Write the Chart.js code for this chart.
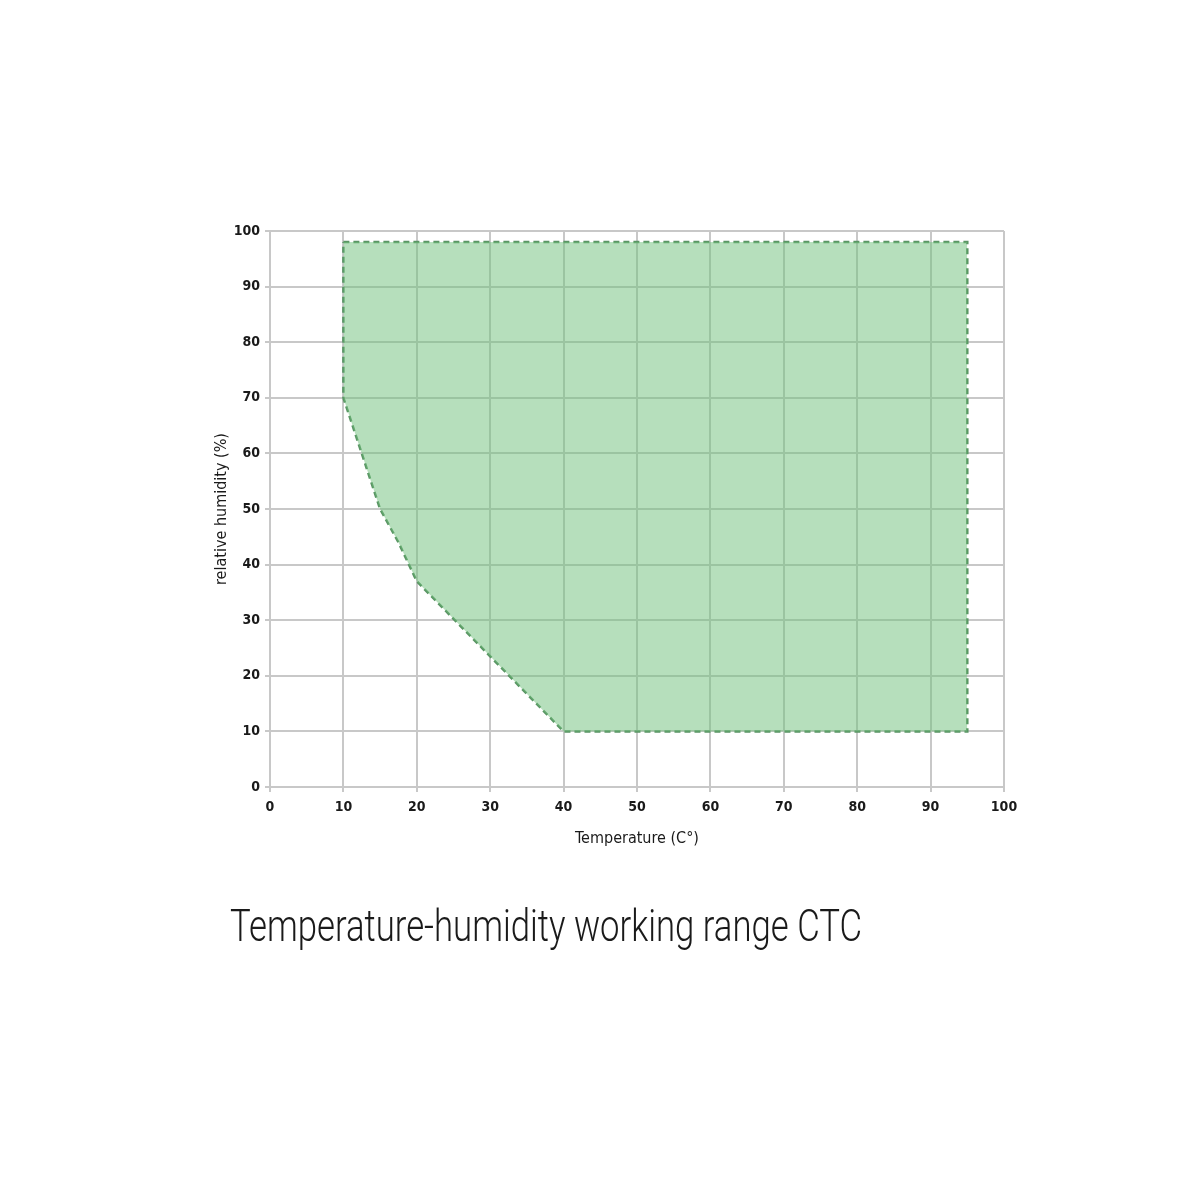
<!DOCTYPE html>
<html>
<head>
<meta charset="utf-8">
<script src="https://cdn.jsdelivr.net/npm/chart.js@4.4.1/dist/chart.umd.min.js"></script>
<style>
  html, body { margin: 0; padding: 0; background: #ffffff; }
  #wrap { position: relative; width: 1200px; height: 1200px; }
  #chart { position: absolute; left: 0; top: 0; }
  #caption {
    position: absolute; left: 230px; top: 900px;
    font-family: Roboto, "DejaVu Sans Condensed", sans-serif;
    font-weight: 300;
    font-size: 44px; color: #1a1a1a; white-space: nowrap;
    transform-origin: 0 0;
  }
</style>
</head>
<body>
<div id="wrap">
  <canvas id="chart" width="1200" height="1200"></canvas>
  <div id="caption">Temperature-humidity working range CTC</div>
</div>
<script>
// Working range (temperature °C, relative humidity %)
const lowerTemps = [10, 12.5, 15, 17.5, 20, 30, 40, 95];
const lowerHumidity = [70, 60, 50, 44, 37, 23.5, 10, 10];
const upperHumidity = 98;

// outline of the range, closed loop
const outlineTemps = [10, 95, 95, 40, 30, 20, 17.5, 15, 12.5, 10, 10];
const outlineHumidity = [98, 98, 10, 10, 23.5, 37, 44, 50, 60, 70, 98];

const xTicks = [0, 10, 20, 30, 40, 50, 60, 70, 80, 90, 100];
const yTicks = [0, 10, 20, 30, 40, 50, 60, 70, 80, 90, 100];

const gridColor = "#c8c8c8";
const tickFont = { family: "DejaVu Sans Condensed", size: 14, weight: "bold" };
const titleFont = { family: "DejaVu Sans Condensed", size: 16 };

// squeeze the caption to the reference width (condensed look)
const caption = document.getElementById("caption");
const capScale = 632 / caption.getBoundingClientRect().width;
caption.style.transform = `scaleX(${capScale})`;

const lowerPoints = lowerTemps.map((t, i) => ({ x: t, y: lowerHumidity[i] }));
const outlinePoints = outlineTemps.map((t, i) => ({ x: t, y: outlineHumidity[i] }));

new Chart(document.getElementById("chart"), {
  type: "scatter",
  data: {
    datasets: [
      {
        label: "range fill",
        data: lowerPoints,
        showLine: true,
        borderWidth: 0,
        borderColor: "rgba(0,0,0,0)",
        pointRadius: 0,
        backgroundColor: "rgba(110, 192, 122, 0.5)",
        fill: { value: upperHumidity }
      },
      {
        label: "range outline",
        data: outlinePoints,
        showLine: true,
        borderColor: "#5a9464",
        borderWidth: 2.5,
        borderDash: [6, 4],
        pointRadius: 0,
        fill: false
      }
    ]
  },
  options: {
    responsive: false,
    animation: false,
    layout: { padding: { left: 210, right: 196, top: 231, bottom: 348 } },
    plugins: {
      legend: { display: false },
      tooltip: { enabled: false }
    },
    scales: {
      x: {
        type: "linear",
        min: 0,
        max: 100,
        afterBuildTicks: s => { s.ticks = xTicks.map(v => ({ value: v })); },
        afterFit: s => { s.height = 65; },
        grid: { color: gridColor, lineWidth: 2, tickLength: 5 },
        border: { color: gridColor, width: 2 },
        ticks: { color: "#1a1a1a", font: tickFont, padding: 7, maxRotation: 0 },
        title: { display: true, text: "Temperature (C°)", color: "#1a1a1a", font: titleFont, padding: { top: 4 } }
      },
      y: {
        type: "linear",
        min: 0,
        max: 100,
        afterBuildTicks: s => { s.ticks = yTicks.map(v => ({ value: v })); },
        afterFit: s => { s.width = 60; },
        grid: { color: gridColor, lineWidth: 2, tickLength: 5 },
        border: { color: gridColor, width: 2 },
        ticks: { color: "#1a1a1a", font: tickFont, padding: 5 },
        title: { display: true, text: "relative humidity (%)", color: "#1a1a1a", font: titleFont, padding: { top: 2, bottom: 2 } }
      }
    }
  }
});
</script>
</body>
</html>
